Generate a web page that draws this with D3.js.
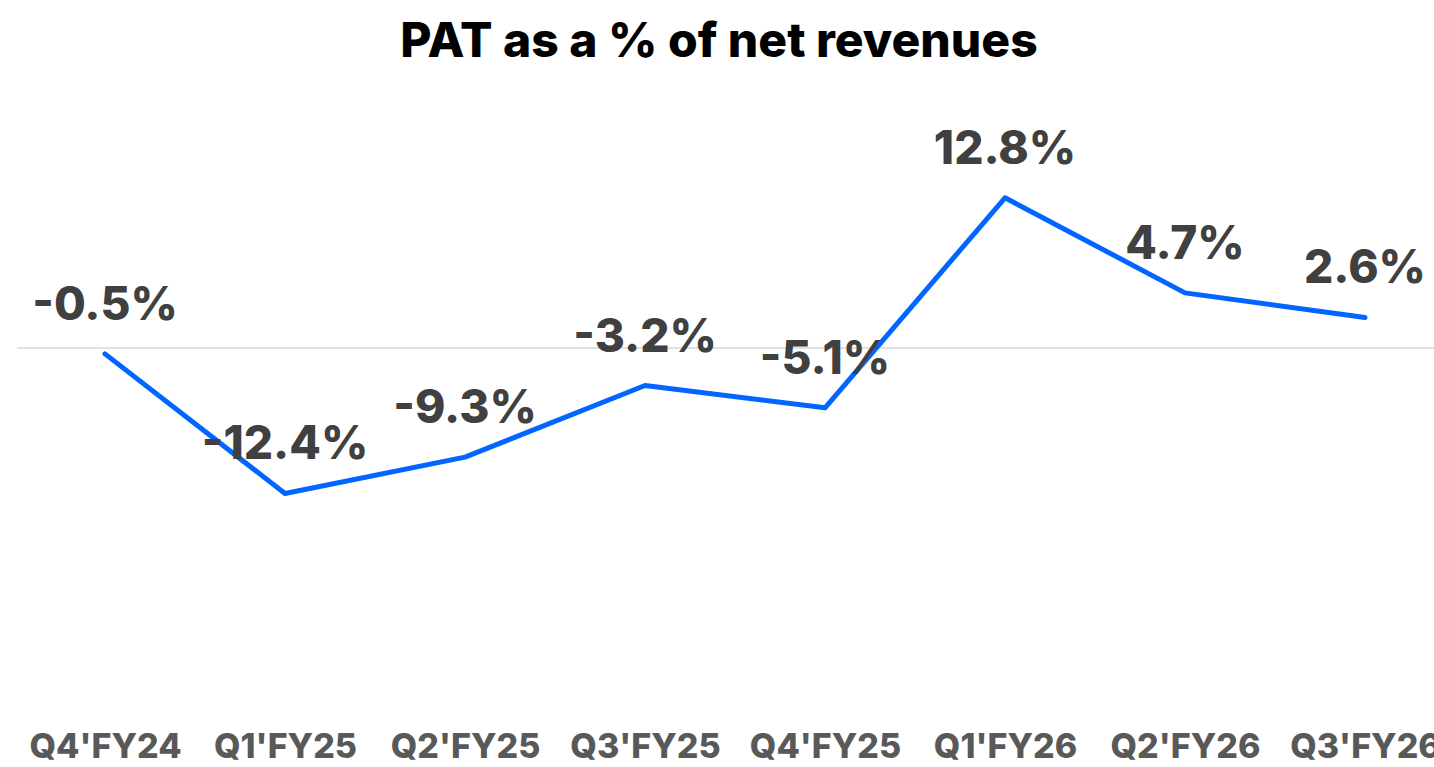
<!DOCTYPE html>
<html>
<head>
<meta charset="utf-8">
<script src="https://cdn.jsdelivr.net/npm/d3@7"></script>
<style>
  body { margin: 0; background: #fff; }
  text { font-family: "Inter", "Open Sans", sans-serif; }
</style>
</head>
<body>
<div id="chart"></div>
<script>
// chart data
var quarters = ["Q4'FY24", "Q1'FY25", "Q2'FY25", "Q3'FY25", "Q4'FY25", "Q1'FY26", "Q2'FY26", "Q3'FY26"];
var patPct = [-0.5, -12.4, -9.3, -3.2, -5.1, 12.8, 4.7, 2.6];
var titleText = "PAT as a % of net revenues";

var svgWidth = 1434;
var svgHeight = 767;

var svg = d3.select("#chart")
    .append("svg")
    .attr("width", svgWidth)
    .attr("height", svgHeight);

//x positions, one step of 180px per quarter
var xScale = d3.scalePoint()
    .domain(quarters)
    .range([15, 1455])
    .padding(0.5);

var yScale = d3.scaleLinear()
    .domain([-15, 15])
    .range([524, 172]);

//title
svg.append("text")
    .attr("x", 719)
    .attr("y", 57)
    .attr("text-anchor", "middle")
    .attr("font-size", "48px")
    .attr("font-weight", 800)
    .attr("fill", "#000")
    .text(titleText);

//zero line
svg.append("line")
    .attr("x1", 17)
    .attr("x2", svgWidth)
    .attr("y1", yScale(0))
    .attr("y2", yScale(0))
    .attr("stroke", "#d9d9d9")
    .attr("stroke-width", 1.5);

//category labels along the bottom
var xAxis = d3.axisBottom(xScale).tickSize(0).tickPadding(0);
var axisG = svg.append("g")
    .attr("transform", "translate(0, 731)")
    .call(xAxis);
axisG.select(".domain").remove();
axisG.selectAll("text")
    .attr("dy", "0.78em")
    .attr("font-family", "Inter, sans-serif")
    .attr("font-size", "34px")
    .attr("font-weight", 800)
    .attr("fill", "#595959");

//line
var line = d3.line()
    .x((d, i) => xScale(quarters[i]))
    .y(d => yScale(d));

svg.append("path")
    .datum(patPct)
    .attr("d", line)
    .attr("fill", "none")
    .attr("stroke", "#0066ff")
    .attr("stroke-width", 5)
    .attr("stroke-linejoin", "round")
    .attr("stroke-linecap", "round");

//value labels
svg.selectAll(".valueLabel")
    .data(patPct)
    .enter()
    .append("text")
    .attr("class", "valueLabel")
    .attr("x", (d, i) => xScale(quarters[i]))
    .attr("y", d => yScale(d) - 34)
    .attr("text-anchor", "middle")
    .attr("font-size", "46px")
    .attr("font-weight", 800)
    .attr("fill", "#404040")
    .text(d => d.toFixed(1) + "%");
</script>
</body>
</html>
